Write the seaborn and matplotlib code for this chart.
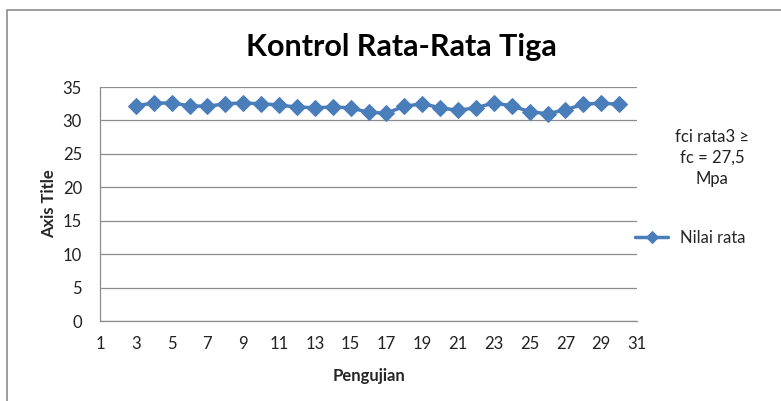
import matplotlib
matplotlib.use("Agg")
import matplotlib.pyplot as plt
import seaborn as sns
import pandas as pd
from matplotlib.patches import Rectangle

pengujian = list(range(3, 31))
nilai_rata = [32.2, 32.6, 32.6, 32.2, 32.1, 32.5, 32.6, 32.5, 32.3, 32.0,
              31.9, 32.0, 31.9, 31.2, 31.1, 32.1, 32.5, 31.9, 31.5, 31.9,
              32.6, 32.2, 31.3, 31.0, 31.6, 32.4, 32.6, 32.4]
x_ticks = list(range(1, 32, 2))
y_ticks = list(range(0, 36, 5))

sns.set_theme(style="white")
plt.rcParams['font.family'] = ['Lato', 'DejaVu Sans']

df = pd.DataFrame({"Pengujian": pengujian, "Nilai rata": nilai_rata})

fig = plt.figure(figsize=(7.81, 4.01), dpi=100)
ax = fig.add_axes([100/781, 80/401, 537/781, 234/401])

color = "#4A7EBB"
sns.lineplot(data=df, x="Pengujian", y="Nilai rata", ax=ax, color=color,
             marker="D", markersize=8.5, markeredgecolor=color, linewidth=2.5,
             label="Nilai rata", legend=False)

ax.set_xlim(1, 31)
ax.set_ylim(0, 35)
ax.set_xticks(x_ticks)
ax.set_yticks(y_ticks)
ax.tick_params(axis='both', labelsize=12, length=0, pad=11, colors="#222222")
ax.tick_params(axis='y', pad=13)
ax.yaxis.grid(True, color="#8c8c8c", linewidth=0.9)
ax.xaxis.grid(False)
for s in ["top", "right"]:
    ax.spines[s].set_visible(False)
for s in ["left", "bottom"]:
    ax.spines[s].set_color("#8c8c8c")
    ax.spines[s].set_linewidth(0.9)

ax.set_xlabel("Pengujian", fontsize=12, fontweight="bold", labelpad=11)
ax.set_ylabel("Axis Title", fontsize=12, fontweight="bold", labelpad=4)

fig.text(401/781, 1 - 47/401, "Kontrol Rata-Rata Tiga", ha="center", va="center",
         fontsize=22, fontweight="bold", color="black")

fig.text(712/781, 1 - 158/401, "fci rata3 \u2265\nfc = 27,5\nMpa", ha="center",
         va="center", fontsize=12, linespacing=1.4, color="#222222",
         family=['Lato', 'DejaVu Sans'])

handles, labels = ax.get_legend_handles_labels()
leg = fig.legend(handles, labels, loc="center left", bbox_to_anchor=(620/781, 1 - 238/401),
                 frameon=False, fontsize=12, handlelength=2.0, handletextpad=0.7,
                 markerscale=0.75)

fig.patches.append(Rectangle((7/781, -0.1), 1.2, (1 - 10/401) + 0.1,
                             transform=fig.transFigure, fill=False,
                             edgecolor="#8c8c8c", linewidth=1.2))

fig.savefig("out.png", dpi=100)
